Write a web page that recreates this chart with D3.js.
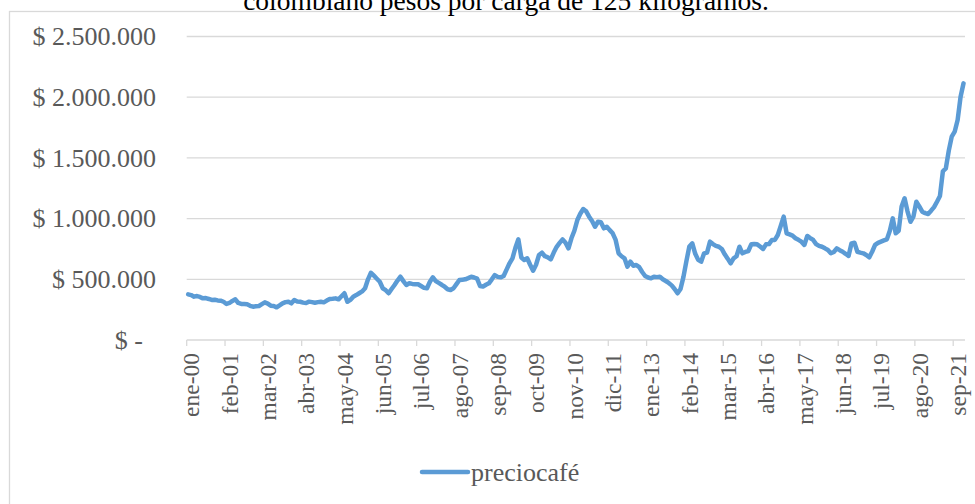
<!DOCTYPE html>
<html>
<head>
<meta charset="utf-8">
<script src="https://cdn.jsdelivr.net/npm/d3@7"></script>
<style>
  body { margin: 0; background: #fff; }
  svg { display: block; font-family: "Liberation Serif", "Times New Roman", serif; }
</style>
</head>
<body>
<script>
const titulo = "colombiano pesos por carga de 125 kilogramos.";
const serieNombre = "preciocafé";
const meses = ["ene","feb","mar","abr","may","jun","jul","ago","sep","oct","nov","dic"];
const anios = ["00","01","02","03","04","05","06","07","08","09","10","11","12","13","14","15","16","17","18","19","20","21"];
const yTicks = [0, 500000, 1000000, 1500000, 2000000, 2500000];

// precio mensual en miles de pesos, una fila por año (2000 - 2021)
const precioCafe = [
  376, 370, 357, 362, 355, 343, 345, 338, 330, 332, 326, 324,
  315, 297, 305, 322, 335, 305, 297, 296, 294, 282, 274, 278,
  280, 295, 310, 300, 283, 280, 269, 285, 302, 312, 315, 302,
  330, 318, 315, 308, 305, 316, 312, 307, 312, 315, 310, 325,
  338, 340, 343, 335, 360, 385, 315, 330, 357, 370, 385, 400,
  426, 500, 554, 530, 505, 480, 426, 410, 385, 420, 453, 490,
  521, 485, 453, 467, 462, 460, 459, 445, 430, 426, 480, 516,
  485, 470, 455, 439, 418, 412, 426, 460, 494, 497, 500, 510,
  521, 515, 505, 445, 440, 455, 467, 500, 535, 520, 516, 527,
  580, 632, 673, 760, 829, 680, 659, 673, 620, 571, 620, 700,
  719, 690, 681, 665, 720, 768, 800, 829, 801, 755, 838, 900,
  988, 1040, 1079, 1060, 1016, 980, 933, 974, 970, 920, 933, 905,
  879, 824, 714, 690, 673, 604, 645, 612, 618, 600, 560, 527,
  515, 508, 521, 518, 521, 500, 486, 470, 450, 420, 385, 420,
  520, 650, 770, 796, 710, 660, 645, 714, 720, 810, 790, 775,
  768, 750, 706, 670, 632, 673, 690, 768, 714, 725, 733, 788,
  790, 788, 770, 750, 788, 790, 824, 824, 865, 940, 1016, 879,
  870, 860, 838, 825, 810, 783, 857, 840, 824, 790, 775, 768,
  755, 741, 714, 725, 755, 740, 727, 710, 692, 796, 801, 727,
  720, 714, 700, 681, 727, 783, 800, 810, 820, 829, 900, 1002,
  879, 900, 1100, 1167, 1060, 974, 1016, 1139, 1100, 1057, 1045, 1038,
  1065, 1095, 1139, 1186, 1390, 1414, 1560, 1675, 1716, 1812, 2004, 2114
];

const categorias = [];
anios.forEach(a => meses.forEach(m => categorias.push(m + "-" + a)));
const datos = categorias.map((c, i) => ({ mes: c, valor: precioCafe[i] * 1000 }));

var w = 975;
var h = 504;
const plotLeft = 186.7, plotRight = 965, plotTop = 36.5, plotBottom = 340;
const gris = "#595959";
const lineaGris = "#d9d9d9";
const azul = "#5b9bd5";

const svg = d3.select("body")
  .append("svg")
  .attr("width", w)
  .attr("height", h);

// marco del gráfico (sigue fuera de la imagen por la derecha y abajo)
svg.append("rect")
  .attr("x", 9.5).attr("y", 11.5)
  .attr("width", 975).attr("height", 520)
  .attr("fill", "#fff")
  .attr("stroke", lineaGris)
  .attr("stroke-width", 1.3);

svg.append("text")
  .attr("x", 506).attr("y", 9.5)
  .attr("text-anchor", "middle")
  .style("font-size", "27.5px")
  .attr("fill", "#000")
  .text(titulo);

const xScale = d3.scaleBand()
  .domain(categorias)
  .range([plotLeft, plotRight])
  .padding(0);
const yScale = d3.scaleLinear()
  .domain([0, 2500000])
  .range([plotBottom, plotTop]);

const loc = d3.formatLocale({ decimal: ",", thousands: ".", grouping: [3], currency: ["$ ", ""] });
const fmt = loc.format("$,.0f");

svg.append("g")
  .selectAll("line")
  .data(yTicks)
  .enter()
  .append("line")
  .attr("x1", plotLeft).attr("x2", plotRight)
  .attr("y1", d => yScale(d)).attr("y2", d => yScale(d))
  .attr("stroke", lineaGris)
  .attr("stroke-width", 1.3);

const yAxis = svg.append("g")
  .attr("transform", "translate(156,0)")
  .call(d3.axisLeft(yScale)
    .tickValues(yTicks)
    .tickSize(0)
    .tickPadding(0)
    .tickFormat(d => d === 0 ? "$ -" : fmt(d)));
yAxis.select(".domain").remove();
yAxis.selectAll("text")
  .style("font-size", "26px")
  .style("font-family", "'Liberation Serif', 'Times New Roman', serif")
  .attr("fill", gris)
  .attr("x", d => d === 0 ? -13 : 0);

// eje de categorías: marcas cada 13 meses
const saltos = categorias.filter((c, i) => i % 13 === 0);

svg.append("g")
  .selectAll("line")
  .data(saltos)
  .enter()
  .append("line")
  .attr("x1", d => xScale(d)).attr("x2", d => xScale(d))
  .attr("y1", plotBottom).attr("y2", plotBottom + 6)
  .attr("stroke", lineaGris)
  .attr("stroke-width", 1.3);

svg.append("g")
  .selectAll("text")
  .data(saltos)
  .enter()
  .append("text")
  .attr("transform", d => "translate(" + (xScale(d) + 4.5) + "," + (plotBottom + 13) + ") rotate(-90)")
  .attr("text-anchor", "end")
  .attr("dy", "0.35em")
  .style("font-size", "23.5px")
  .attr("fill", gris)
  .text(d => d);

const linea = d3.line()
  .x(d => xScale(d.mes) + xScale.bandwidth() / 2)
  .y(d => yScale(d.valor));

svg.append("path")
  .datum(datos)
  .attr("d", linea)
  .attr("fill", "none")
  .attr("stroke", azul)
  .attr("stroke-width", 4.5)
  .attr("stroke-linejoin", "round")
  .attr("stroke-linecap", "round");

// leyenda
const legend = svg.append("g").attr("transform", "translate(422,472)");
legend.append("line")
  .attr("x1", 0).attr("x2", 46)
  .attr("stroke", azul)
  .attr("stroke-width", 4.5)
  .attr("stroke-linecap", "round");
legend.append("text")
  .attr("x", 49)
  .attr("dy", "0.35em")
  .style("font-size", "26px")
  .attr("fill", gris)
  .text(serieNombre);
</script>
</body>
</html>
